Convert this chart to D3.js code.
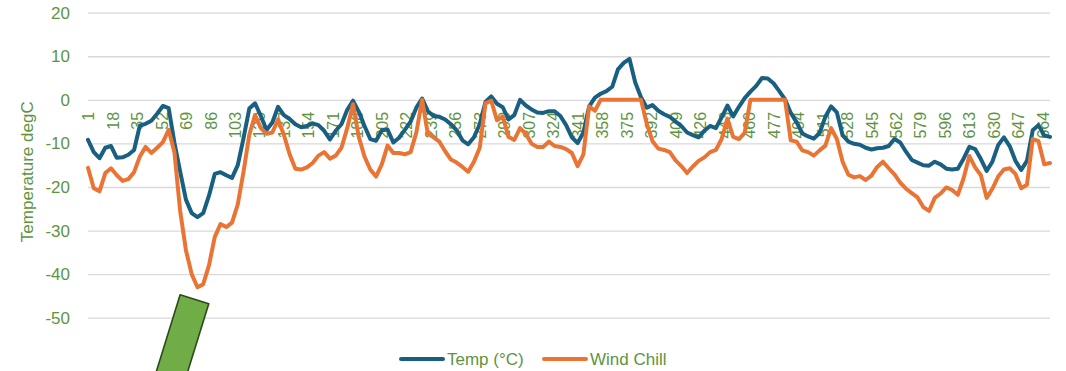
<!DOCTYPE html>
<html>
<head>
<meta charset="utf-8">
<script src="https://cdn.jsdelivr.net/npm/d3@7"></script>
<style>
  body { margin: 0; background: #fff; }
  svg { display: block; }
  text { font-family: "Liberation Sans", Arial, sans-serif; }
</style>
</head>
<body>
<svg id="chart" width="1066" height="371"></svg>
<script>
// Logger records 1..669; values kept for every 4th record
const recordCount = 669;
const readingNo = d3.range(1, recordCount + 1, 4);

const tempC = [
  -9.2, -12.0, -13.4, -11.0, -10.6, -13.3, -13.2, -12.6, -11.5, -5.9,
  -5.5, -4.8, -3.2, -1.4, -1.9, -9.8, -16.5, -22.9, -26.0, -26.9,
  -26.0, -22.0, -17.0, -16.6, -17.3, -17.9, -15.0, -8.8, -2.0, -0.8,
  -3.7, -6.9, -5.2, -1.6, -3.5, -4.4, -5.6, -6.3, -6.0, -5.4,
  -5.8, -7.1, -9.1, -7.1, -5.6, -2.3, -0.2, -2.7, -6.0, -9.0,
  -9.4, -7.0, -6.8, -9.8, -8.7, -6.9, -5.0, -1.8, 0.3, -2.6,
  -3.7, -3.9, -4.5, -5.6, -7.0, -9.3, -10.2, -8.6, -5.6, -0.5,
  0.8, -0.9, -1.7, -4.5, -3.5, 0.0, -1.3, -2.2, -2.9, -3.0,
  -2.6, -2.6, -3.7, -5.8, -8.6, -9.9, -7.5, -1.5, 0.5, 1.4,
  2.0, 3.0, 7.0, 8.5, 9.4, 4.0, 0.6, -1.8, -1.2, -2.5,
  -3.3, -3.9, -5.0, -6.0, -7.5, -8.1, -8.6, -7.1, -6.0, -6.5,
  -4.0, -1.3, -3.8, -1.6, 0.4, 1.9, 3.2, 5.0, 4.9, 3.8,
  2.0, 0.1, -3.0, -5.1, -7.7, -8.4, -8.9, -7.6, -3.9, -1.5,
  -2.9, -8.1, -9.6, -10.1, -10.3, -11.0, -11.4, -11.1, -11.0, -10.6,
  -9.0, -9.8, -11.9, -13.8, -14.4, -15.0, -15.1, -14.2, -14.8, -15.8,
  -16.0, -15.8, -13.5, -10.8, -11.3, -13.6, -16.3, -14.2, -10.4, -8.6,
  -10.6, -14.0, -16.1, -14.0, -7.0, -5.8, -8.2, -8.5
];

const windChill = [
  -15.6, -20.3, -21.0, -16.8, -15.7, -17.3, -18.6, -18.2, -16.6, -13.0,
  -10.8, -12.2, -11.0, -9.7, -6.9, -12.0, -25.5, -34.5, -40.0, -43.0,
  -42.3, -38.0, -31.5, -28.5, -29.2, -28.2, -24.0, -16.5, -8.0, -3.5,
  -6.5, -7.8, -7.5, -4.5, -8.0, -12.5, -15.8, -16.0, -15.5, -14.5,
  -12.8, -12.0, -13.5, -12.8, -11.0, -6.5, -1.0, -8.5, -13.0, -16.0,
  -17.6, -14.8, -10.5, -12.2, -12.2, -12.5, -12.0, -7.5, 0.0, -7.8,
  -8.6, -9.6, -11.8, -13.7, -14.4, -15.4, -16.5, -14.2, -11.0, -0.8,
  -0.2, -4.7, -3.8, -8.5, -9.2, -6.5, -7.8, -10.1, -10.8, -10.8,
  -9.6, -10.6, -10.8, -11.3, -12.2, -15.2, -12.5, -1.5, -2.5, 0.0,
  0.0, 0.0, 0.0, 0.0, 0.0, 0.0, 0.0, -5.5, -9.5, -11.2,
  -11.5, -12.0, -13.9, -15.2, -16.8, -15.3, -14.0, -13.2, -12.0, -11.5,
  -9.0, -4.3, -8.5, -9.0, -7.6, 0.0, 0.0, 0.0, 0.0, 0.0,
  0.0, 0.0, -9.3, -9.6, -11.6, -12.0, -12.8, -11.6, -10.5, -6.5,
  -9.0, -14.2, -17.2, -17.8, -17.5, -18.4, -17.4, -15.4, -14.2, -15.7,
  -17.1, -19.0, -20.4, -21.4, -22.4, -24.6, -25.5, -22.5, -21.5, -20.1,
  -20.7, -21.8, -18.0, -12.9, -15.5, -17.3, -22.5, -20.4, -17.6, -16.0,
  -15.7, -17.0, -20.3, -19.5, -9.0, -9.5, -14.8, -14.5
];

const xTickLabels = [1, 18, 35, 52, 69, 86, 103, 120, 137, 154, 171, 188, 205, 222,
  239, 256, 273, 290, 307, 324, 341, 358, 375, 392, 409, 426, 443, 460, 477, 494,
  511, 528, 545, 562, 579, 596, 613, 630, 647, 664];
const yTicks = [-50, -40, -30, -20, -10, 0, 10, 20];
const seriesNames = ["Temp (°C)", "Wind Chill"];
const yTitle = "Temperature degC";

const colors = { temp: "#185f82", wind: "#ea7434", text: "#5e943f", grid: "#d9d9d9" };

const svg = d3.select("#chart");
const x = d3.scaleLinear().domain([1, recordCount]).range([88, 1050]);
const y = d3.scaleLinear().domain([-50, 20]).range([317.7, 12.7]);

// horizontal gridlines + value labels (plain hyphen for negatives)
const yAxis = svg.append("g")
  .attr("transform", `translate(${x.range()[0]},0)`)
  .call(d3.axisLeft(y).tickValues(yTicks)
    .tickFormat(d => String(d))
    .tickSize(-(x.range()[1] - x.range()[0])).tickPadding(18));
yAxis.select(".domain").remove();
yAxis.selectAll(".tick line").attr("stroke", colors.grid).attr("stroke-width", 1.3);
yAxis.selectAll(".tick text")
  .attr("fill", colors.text).attr("font-size", 17)
  .attr("font-family", "'Liberation Sans', Arial, sans-serif");

// category labels, rotated, hanging below the zero line
const xAxis = svg.append("g")
  .attr("transform", `translate(0,${y(0)})`)
  .call(d3.axisBottom(x).tickValues(xTickLabels).tickFormat(d => String(d)).tickSize(0));
xAxis.select(".domain").remove();
xAxis.selectAll(".tick text")
  .attr("transform", "rotate(-90)")
  .attr("x", -12).attr("y", 0).attr("dy", "0.35em")
  .attr("text-anchor", "end")
  .attr("fill", colors.text).attr("font-size", 16)
  .attr("font-family", "'Liberation Sans', Arial, sans-serif");

// axis title
svg.append("text")
  .attr("transform", `translate(27,${y(-16.5)}) rotate(-90)`)
  .attr("text-anchor", "middle").attr("dy", "0.35em")
  .attr("fill", colors.text).attr("font-size", 17)
  .text(yTitle);

// series lines
const line = d3.line().x((d, i) => x(readingNo[i])).y(d => y(d));
[[tempC, colors.temp], [windChill, colors.wind]].forEach(([vals, c]) => {
  svg.append("path")
    .datum(vals)
    .attr("d", line)
    .attr("fill", "none")
    .attr("stroke", c)
    .attr("stroke-width", 4)
    .attr("stroke-linejoin", "round")
    .attr("stroke-linecap", "round");
});

// legend
const legend = svg.append("g").attr("transform", "translate(0,359)");
const legendItems = [
  { name: seriesNames[0], color: colors.temp, x0: 401 },
  { name: seriesNames[1], color: colors.wind, x0: 544 }
];
legendItems.forEach(it => {
  legend.append("line")
    .attr("x1", it.x0).attr("x2", it.x0 + 42).attr("y1", 0).attr("y2", 0)
    .attr("stroke", it.color).attr("stroke-width", 4).attr("stroke-linecap", "round");
  legend.append("text")
    .attr("x", it.x0 + 46).attr("y", 0).attr("dy", "0.35em")
    .attr("fill", colors.text).attr("font-size", 17)
    .text(it.name);
});

// callout arrow body pointing at the lowest wind chill
const minI = d3.minIndex(windChill);
const ax = x(readingNo[minI]) - 3, ay = y(windChill[minI]) + 12;
const u = [0.955, 0.296], v = [-0.296, 0.955], halfW = 15, len = 130;
const p1 = [ax - halfW * u[0], ay - halfW * u[1]];
const p2 = [ax + halfW * u[0], ay + halfW * u[1]];
const p3 = [p2[0] + len * v[0], p2[1] + len * v[1]];
const p4 = [p1[0] + len * v[0], p1[1] + len * v[1]];
svg.append("polygon")
  .attr("points", [p1, p2, p3, p4].map(p => p.join(",")).join(" "))
  .attr("fill", "#70ad47")
  .attr("stroke", "#2c4a1c")
  .attr("stroke-width", 1.6)
  .attr("stroke-linejoin", "round");
</script>
</body>
</html>
